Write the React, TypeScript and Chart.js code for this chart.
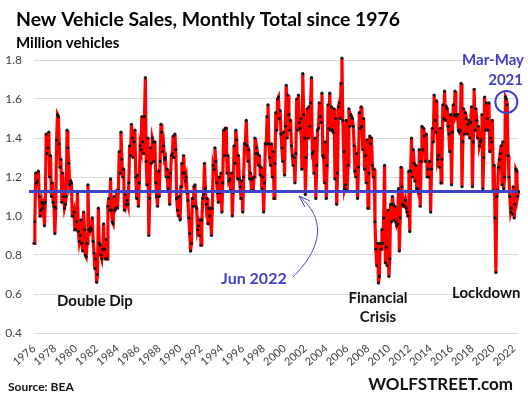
import { useEffect, useRef } from "react";
import { Chart, registerables } from "chart.js";

Chart.register(...registerables);

// ---------- DATA (million vehicles, monthly, not seasonally adjusted) ----------
const START_YEAR = 1976;

const sales1976to1979 = [
  // 1976
  0.86, 0.97, 1.22, 1.17, 1.18, 1.23, 1.1, 1.0, 1.03, 1.07, 1.04, 1.06,
  // 1977
  0.95, 1.07, 1.42, 1.32, 1.35, 1.43, 1.2, 1.31, 1.1, 1.17, 1.07, 1.05,
  // 1978
  0.91, 1.04, 1.39, 1.52, 1.51, 1.37, 1.25, 1.29, 1.07, 1.22, 1.1, 1.04,
  // 1979
  1.06, 1.1, 1.44, 1.35, 1.27, 1.16, 1.18, 1.17, 1.0, 1.0, 1.02, 0.93,
];

const sales1980s = [
  // 1980
  0.93, 0.97, 1.12, 0.92, 0.87, 0.9, 0.98, 0.86, 0.82, 1.02, 0.93, 0.8,
  // 1981
  0.79, 0.86, 1.16, 0.93, 0.92, 0.94, 0.93, 0.99, 0.87, 0.81, 0.73, 0.78,
  // 1982
  0.66, 0.7, 1.04, 0.86, 0.85, 0.8, 0.78, 0.83, 0.96, 0.83, 0.78, 0.88,
  // 1983
  0.78, 1.05, 1.09, 1.03, 1.19, 1.03, 0.97, 0.96, 1.1, 1.03, 1.04, 1.13,
  // 1984
  1.04, 1.13, 1.33, 1.22, 1.43, 1.29, 1.2, 1.24, 1.03, 1.11, 1.06, 1.08,
  // 1985
  1.06, 1.17, 1.36, 1.31, 1.47, 1.4, 1.3, 1.38, 1.44, 1.2, 1.09, 1.21,
  // 1986
  1.05, 1.17, 1.36, 1.34, 1.51, 1.38, 1.32, 1.51, 1.71, 1.28, 1.16, 1.4,
  // 1987
  0.9, 1.09, 1.35, 1.27, 1.4, 1.38, 1.28, 1.38, 1.17, 1.1, 1.05, 1.23,
  // 1988
  1.1, 1.28, 1.47, 1.43, 1.33, 1.36, 1.29, 1.3, 1.2, 1.24, 1.14, 1.2,
  // 1989
  1.06, 1.22, 1.31, 1.32, 1.41, 1.3, 1.42, 1.34, 1.09, 1.03, 1.0, 1.1,
];

const sales1990s = [
  // 1990
  0.98, 1.15, 1.27, 1.22, 1.31, 1.22, 1.18, 1.2, 1.12, 1.08, 0.99, 0.91,
  // 1991
  0.82, 0.86, 1.09, 1.05, 1.15, 1.16, 1.05, 1.04, 0.93, 0.95, 0.9, 0.98,
  // 1992
  0.85, 0.98, 1.09, 1.11, 1.27, 1.14, 1.06, 1.09, 0.96, 1.04, 1.0, 1.04,
  // 1993
  0.9, 1.04, 1.26, 1.24, 1.35, 1.28, 1.17, 1.12, 1.07, 1.2, 1.12, 1.22,
  // 1994
  1.02, 1.17, 1.44, 1.31, 1.45, 1.45, 1.22, 1.31, 1.18, 1.19, 1.13, 1.22,
  // 1995
  1.0, 1.12, 1.36, 1.27, 1.44, 1.39, 1.19, 1.31, 1.19, 1.15, 1.09, 1.18,
  // 1996
  1.02, 1.2, 1.37, 1.37, 1.49, 1.36, 1.28, 1.34, 1.19, 1.22, 1.13, 1.19,
  // 1997
  1.13, 1.2, 1.4, 1.32, 1.35, 1.32, 1.26, 1.31, 1.21, 1.25, 1.14, 1.2,
  // 1998
  1.02, 1.17, 1.37, 1.37, 1.51, 1.57, 1.37, 1.3, 1.26, 1.37, 1.2, 1.33,
  // 1999
  1.09, 1.27, 1.53, 1.44, 1.6, 1.61, 1.5, 1.54, 1.42, 1.35, 1.28, 1.43,
];

const sales2000s = [
  // 2000
  1.21, 1.46, 1.67, 1.4, 1.62, 1.52, 1.44, 1.49, 1.36, 1.31, 1.26, 1.3,
  // 2001
  1.17, 1.32, 1.6, 1.44, 1.62, 1.48, 1.45, 1.5, 1.24, 1.73, 1.52, 1.4,
  // 2002
  1.11, 1.3, 1.55, 1.4, 1.56, 1.46, 1.58, 1.71, 1.32, 1.33, 1.22, 1.4,
  // 2003
  1.09, 1.26, 1.44, 1.45, 1.58, 1.51, 1.48, 1.63, 1.31, 1.3, 1.17, 1.38,
  // 2004
  1.09, 1.26, 1.57, 1.45, 1.63, 1.44, 1.56, 1.44, 1.43, 1.55, 1.19, 1.5,
  // 2005
  1.06, 1.22, 1.56, 1.58, 1.5, 1.68, 1.81, 1.49, 1.33, 1.14, 1.16, 1.49,
  // 2006
  1.13, 1.26, 1.55, 1.46, 1.52, 1.51, 1.5, 1.46, 1.36, 1.23, 1.2, 1.32,
  // 2007
  1.09, 1.25, 1.53, 1.45, 1.56, 1.46, 1.34, 1.5, 1.24, 1.31, 1.17, 1.39,
  // 2008
  1.04, 1.22, 1.41, 1.37, 1.4, 1.26, 1.2, 1.24, 0.97, 0.83, 0.745, 0.86,
  // 2009
  0.656, 0.69, 0.86, 0.83, 0.93, 0.86, 0.99, 1.26, 0.76, 0.84, 0.745, 1.03,
];

const sales2010s = [
  // 2010
  0.69, 0.78, 1.06, 0.97, 1.1, 1.06, 0.98, 1.05, 0.97, 0.95, 0.96, 1.14,
  // 2011
  0.82, 0.99, 1.25, 1.15, 1.06, 1.05, 1.05, 1.08, 1.04, 1.02, 1.0, 1.23,
  // 2012
  0.92, 1.23, 1.4, 1.2, 1.34, 1.27, 1.18, 1.26, 1.14, 1.14, 1.12, 1.34,
  // 2013
  1.05, 1.28, 1.46, 1.34, 1.45, 1.41, 1.28, 1.42, 1.2, 1.24, 1.2, 1.28,
  // 2014
  1.02, 1.24, 1.45, 1.38, 1.62, 1.49, 1.43, 1.59, 1.29, 1.31, 1.25, 1.45,
  // 2015
  1.17, 1.29, 1.57, 1.5, 1.64, 1.49, 1.56, 1.55, 1.46, 1.42, 1.33, 1.52,
  // 2016
  1.16, 1.43, 1.57, 1.52, 1.64, 1.51, 1.52, 1.52, 1.44, 1.43, 1.44, 1.68,
  // 2017
  1.15, 1.38, 1.55, 1.42, 1.53, 1.5, 1.42, 1.47, 1.49, 1.4, 1.48, 1.56,
  // 2018
  1.15, 1.38, 1.65, 1.44, 1.55, 1.49, 1.4, 1.46, 1.36, 1.38, 1.39, 1.52,
  // 2019
  1.14, 1.3, 1.61, 1.44, 1.58, 1.5, 1.44, 1.58, 1.33, 1.4, 1.38, 1.49,
];

const sales2020s = [
  // 2020
  1.13, 1.26, 0.99, 0.71, 1.1, 1.13, 1.25, 1.29, 1.32, 1.36, 1.16, 1.38,
  // 2021
  1.14, 1.2, 1.61, 1.6, 1.57, 1.31, 1.2, 1.1, 1.02, 1.04, 1.01, 1.15,
  // 2022 (Jan-Jun)
  0.99, 1.06, 1.24, 1.23, 1.1, 1.126,
];

const yearTickLabels = [
  "1976", "1978", "1980", "1982", "1984", "1986", "1988", "1990",
  "1992", "1994", "1996", "1998", "2000", "2002", "2004", "2006",
  "2008", "2010", "2012", "2014", "2016", "2018", "2020", "2022",
];

const yTickValues = [0.4, 0.6, 0.8, 1.0, 1.2, 1.4, 1.6, 1.8];

// ---------- derived ----------
const monthlySales: number[] = [
  ...sales1976to1979,
  ...sales1980s,
  ...sales1990s,
  ...sales2000s,
  ...sales2010s,
  ...sales2020s,
];
const categories: string[] = monthlySales.map((_, i) => {
  const year = START_YEAR + Math.floor(i / 12);
  return `${year}-${String((i % 12) + 1).padStart(2, "0")}`;
});
const tickLabelFor = (i: number): string => {
  if (i % 12 !== 0) return "";
  const y = String(START_YEAR + i / 12);
  return yearTickLabels.includes(y) ? y : "";
};
const refLevel = monthlySales[monthlySales.length - 1]; // Jun 2022
const circleIndex = categories.indexOf("2021-04");

const BLUE = "#4141c8";
const FONT = "Lato, 'Open Sans', sans-serif";

const overlayPlugin = {
  id: "overlay",
  afterDatasetsDraw(chart: any) {
    const { ctx, chartArea, scales } = chart;
    const y = scales.y.getPixelForValue(refLevel);
    ctx.save();
    ctx.strokeStyle = BLUE;
    ctx.lineWidth = 3;
    ctx.beginPath();
    ctx.moveTo(chartArea.left - 5, y);
    ctx.lineTo(chartArea.right - 1, y);
    ctx.stroke();

    // circle around Mar-May 2021
    const cx = scales.x.getPixelForValue(circleIndex);
    const cy = scales.y.getPixelForValue(1.585);
    ctx.lineWidth = 2;
    ctx.beginPath();
    ctx.arc(cx, cy, 11, 0, Math.PI * 2);
    ctx.stroke();
    ctx.restore();
  },
  afterDraw(chart: any) {
    const { ctx } = chart;
    const text = (
      s: string,
      x: number,
      y: number,
      size: number,
      color: string,
      align: CanvasTextAlign = "left"
    ) => {
      ctx.save();
      ctx.font = `bold ${size}px ${FONT}`;
      ctx.fillStyle = color;
      ctx.textAlign = align;
      ctx.textBaseline = "alphabetic";
      ctx.fillText(s, x, y);
      ctx.restore();
    };
    text("New Vehicle Sales, Monthly Total since 1976", 16, 26, 19.4, "#000");
    text("Million vehicles", 16, 48, 15, "#000");
    text("Double Dip", 57, 306, 15, "#111");
    text("Financial", 378, 303, 15, "#111", "center");
    text("Crisis", 378, 322, 15, "#111", "center");
    text("Lockdown", 452, 298, 15, "#111");
    text("Jun 2022", 221, 284, 16, BLUE);
    text("Mar-May", 524, 65, 15, BLUE, "right");
    text("2021", 523, 85, 15, BLUE, "right");
    text("Source: BEA", 8, 391, 12, "#111");
    text("WOLFSTREET.com", 513, 390, 17, "#111", "right");

    // arrow from "Jun 2022" to the blue line
    ctx.save();
    ctx.strokeStyle = BLUE;
    ctx.lineWidth = 1;
    ctx.beginPath();
    ctx.moveTo(293, 277);
    ctx.bezierCurveTo(318, 252, 330, 222, 299, 196);
    ctx.stroke();
    ctx.beginPath();
    ctx.moveTo(299, 196);
    ctx.lineTo(310, 201);
    ctx.moveTo(299, 196);
    ctx.lineTo(305, 207);
    ctx.stroke();
    ctx.restore();
  },
};

export default function App() {
  const ref = useRef<HTMLCanvasElement | null>(null);

  useEffect(() => {
    if (!ref.current) return;
    const chart = new Chart(ref.current, {
      type: "line",
      data: {
        labels: categories,
        datasets: [
          {
            data: monthlySales,
            borderColor: "#ff0000",
            borderWidth: 3.2,
            pointRadius: 1.6,
            pointBackgroundColor: "#151515",
            pointBorderWidth: 0,
            tension: 0,
            clip: 8,
          },
        ],
      },
      options: {
        responsive: false,
        animation: false,
        events: [],
        layout: { padding: { top: 60, right: 5, left: 0, bottom: 0 } },
        plugins: {
          legend: { display: false },
          tooltip: { enabled: false },
          title: { display: false },
        },
        scales: {
          x: {
            type: "category",
            offset: false,
            grid: { display: false },
            border: { display: false },
            ticks: {
              autoSkip: false,
              minRotation: 40,
              maxRotation: 40,
              padding: 1,
              color: "#404040",
              font: { family: FONT, size: 11 },
              callback: (_v: any, i: number) => tickLabelFor(i),
            },
            afterFit: (axis: any) => {
              axis.height = 65;
            },
          },
          y: {
            min: yTickValues[0],
            max: yTickValues[yTickValues.length - 1],
            grid: { color: "#d9d9d9", drawTicks: false, lineWidth: 1 },
            border: { display: false },
            ticks: {
              padding: 12,
              color: "#404040",
              font: { family: FONT, size: 12 },
              callback: (v: any) => Number(v).toFixed(1),
            },
            afterBuildTicks: (axis: any) => {
              axis.ticks = yTickValues.map((value) => ({ value }));
            },
            afterFit: (axis: any) => {
              axis.width = 34;
            },
          },
        },
      },
      plugins: [overlayPlugin],
    });
    return () => chart.destroy();
  }, []);

  return (
    <div style={{ position: "absolute", left: 0, top: 0, width: 528, height: 398, background: "#fff" }}>
      <canvas ref={ref} width={528} height={398} style={{ display: "block" }} />
    </div>
  );
}
